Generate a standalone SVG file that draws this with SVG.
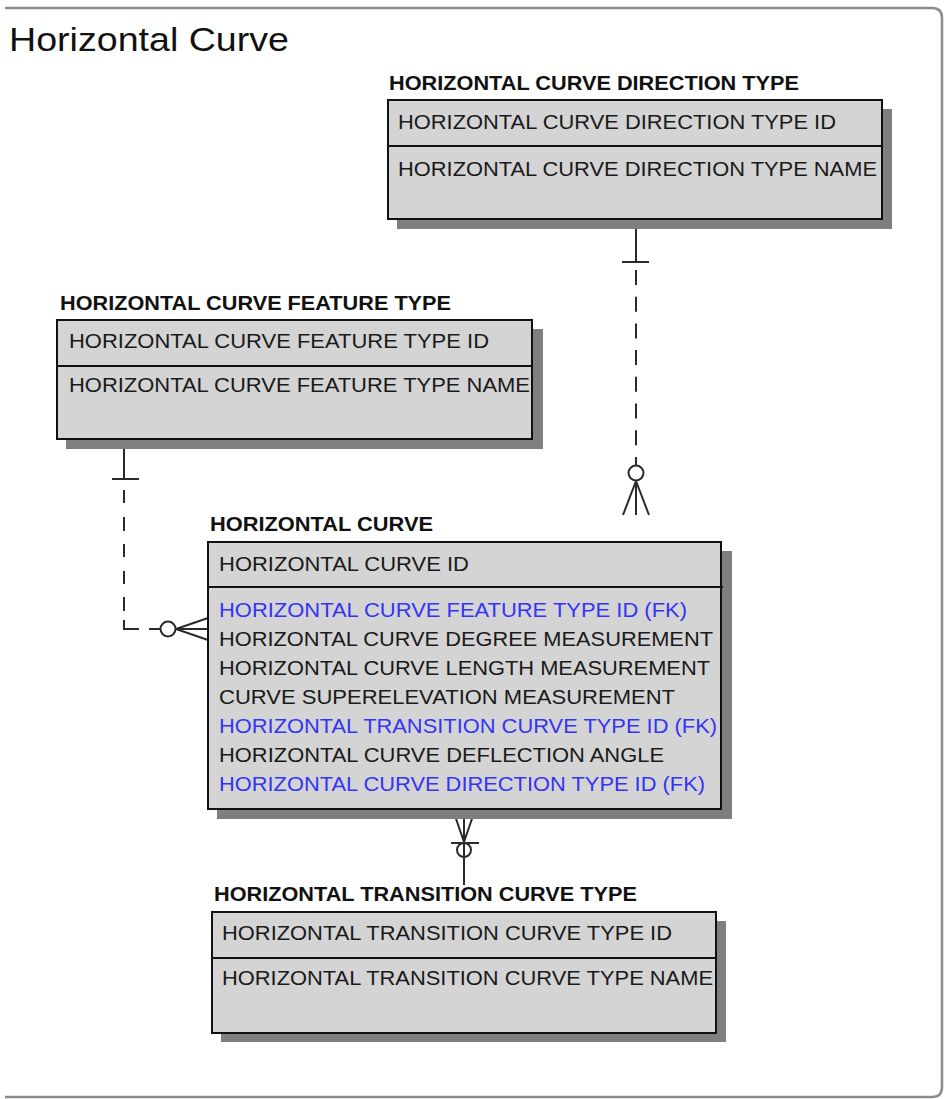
<svg xmlns="http://www.w3.org/2000/svg" width="945" height="1099" viewBox="0 0 945 1099">
  <style>
    .frame { fill: none; stroke: #8c8c8c; stroke-width: 2.5; }
    .title { font-family: "Liberation Sans", Arial, sans-serif; font-size: 34px; fill: #111; }
    .ename { font-family: "Liberation Sans", Arial, sans-serif; font-size: 19.5px; font-weight: bold; fill: #111; }
    .attr { font-family: "Liberation Sans", Arial, sans-serif; font-size: 19.5px; fill: #1a1a1a; }
    .fk { fill: #3434f4; }
    .box { fill: #d4d4d4; stroke: #111; stroke-width: 2; }
    .shadow { fill: #7f7f7f; }
    .div { stroke: #111; stroke-width: 2; }
    .conn { fill: none; stroke: #2a2a2a; stroke-width: 2; }
    .ring { fill: #fff; stroke: #2a2a2a; stroke-width: 2; }
    .ring-open { fill: none; stroke: #2a2a2a; stroke-width: 2; }
  </style>

  <!-- page frame (top, right and bottom edges) -->
  <path class="frame" d="M5,8 H932 Q942,8 942,18 V1087 Q942,1097 932,1097 H5"/>
  <text class="title" x="9" y="51" textLength="280" lengthAdjust="spacingAndGlyphs">Horizontal Curve</text>

  <!-- relationships -->
  <g id="connectors">
    <!-- direction type (one) to horizontal curve (zero or many) -->
    <g id="rel-direction">
      <line class="conn" x1="636" y1="219" x2="636" y2="262"/>
      <line class="conn" x1="622" y1="262" x2="649" y2="262"/>
      <line class="conn" x1="636" y1="270" x2="636" y2="465" stroke-dasharray="15 11.7"/>
      <circle class="ring" cx="636" cy="473" r="7.5"/>
      <path class="conn" d="M636,481 L623,515 M636,481 V515 M636,481 L649,515"/>
    </g>
    <!-- feature type (one) to horizontal curve (zero or many) -->
    <g id="rel-feature">
      <line class="conn" x1="124" y1="439" x2="124" y2="479"/>
      <line class="conn" x1="112" y1="479" x2="139" y2="479"/>
      <path class="conn" d="M124,490 V503 M124,517 V531 M124,544 V557 M124,571 V584 M124,597 V611 M124,620 V629 H139 M149,629 H160"/>
      <circle class="ring" cx="168" cy="629" r="7.5"/>
      <path class="conn" d="M176,629 L208,618 M176,629 H208 M176,629 L208,640"/>
    </g>
    <!-- horizontal curve (many) to transition curve type (zero or one) -->
    <g id="rel-transition">
      <path class="conn" d="M453,810 L464,842 L475,810 M464,810 V885"/>
      <line class="conn" x1="451" y1="843" x2="479" y2="843"/>
      <circle class="ring-open" cx="464" cy="850" r="7"/>
    </g>
  </g>

  <!-- HORIZONTAL CURVE DIRECTION TYPE -->
  <g id="direction-type">
    <text class="ename" x="389" y="90" textLength="410" lengthAdjust="spacingAndGlyphs">HORIZONTAL CURVE DIRECTION TYPE</text>
    <rect class="shadow" x="397" y="109" width="495" height="120"/>
    <rect class="box" x="388" y="100" width="494" height="119"/>
    <line class="div" x1="388" y1="146" x2="882" y2="146"/>
    <text class="attr" x="398" y="129" textLength="438" lengthAdjust="spacingAndGlyphs">HORIZONTAL CURVE DIRECTION TYPE ID</text>
    <text class="attr" x="398" y="176" textLength="479" lengthAdjust="spacingAndGlyphs">HORIZONTAL CURVE DIRECTION TYPE NAME</text>
  </g>

  <!-- HORIZONTAL CURVE FEATURE TYPE -->
  <g id="feature-type">
    <text class="ename" x="60" y="310" textLength="391" lengthAdjust="spacingAndGlyphs">HORIZONTAL CURVE FEATURE TYPE</text>
    <rect class="shadow" x="66" y="329" width="477" height="120"/>
    <rect class="box" x="57" y="320" width="475" height="119"/>
    <line class="div" x1="57" y1="366" x2="532" y2="366"/>
    <text class="attr" x="69" y="348" textLength="420" lengthAdjust="spacingAndGlyphs">HORIZONTAL CURVE FEATURE TYPE ID</text>
    <text class="attr" x="69" y="392" textLength="461" lengthAdjust="spacingAndGlyphs">HORIZONTAL CURVE FEATURE TYPE NAME</text>
  </g>

  <!-- HORIZONTAL CURVE -->
  <g id="horizontal-curve">
    <text class="ename" x="210" y="531" textLength="223" lengthAdjust="spacingAndGlyphs">HORIZONTAL CURVE</text>
    <rect class="shadow" x="217" y="551" width="515" height="268"/>
    <rect class="box" x="208" y="542" width="513" height="267"/>
    <line class="div" x1="208" y1="587" x2="723" y2="587"/>
    <text class="attr" x="219" y="571" textLength="250" lengthAdjust="spacingAndGlyphs">HORIZONTAL CURVE ID</text>
    <text class="attr fk" x="219" y="617" textLength="468" lengthAdjust="spacingAndGlyphs">HORIZONTAL CURVE FEATURE TYPE ID (FK)</text>
    <text class="attr" x="219" y="646" textLength="494" lengthAdjust="spacingAndGlyphs">HORIZONTAL CURVE DEGREE MEASUREMENT</text>
    <text class="attr" x="219" y="675" textLength="491" lengthAdjust="spacingAndGlyphs">HORIZONTAL CURVE LENGTH MEASUREMENT</text>
    <text class="attr" x="219" y="704" textLength="456" lengthAdjust="spacingAndGlyphs">CURVE SUPERELEVATION MEASUREMENT</text>
    <text class="attr fk" x="219" y="733" textLength="498" lengthAdjust="spacingAndGlyphs">HORIZONTAL TRANSITION CURVE TYPE ID (FK)</text>
    <text class="attr" x="219" y="762" textLength="445" lengthAdjust="spacingAndGlyphs">HORIZONTAL CURVE DEFLECTION ANGLE</text>
    <text class="attr fk" x="219" y="791" textLength="486" lengthAdjust="spacingAndGlyphs">HORIZONTAL CURVE DIRECTION TYPE ID (FK)</text>
  </g>

  <!-- HORIZONTAL TRANSITION CURVE TYPE -->
  <g id="transition-curve-type">
    <text class="ename" x="214" y="901" textLength="423" lengthAdjust="spacingAndGlyphs">HORIZONTAL TRANSITION CURVE TYPE</text>
    <rect class="shadow" x="221" y="921" width="505" height="121"/>
    <rect class="box" x="212" y="912" width="504" height="121"/>
    <line class="div" x1="212" y1="958" x2="716" y2="958"/>
    <text class="attr" x="222" y="940" textLength="450" lengthAdjust="spacingAndGlyphs">HORIZONTAL TRANSITION CURVE TYPE ID</text>
    <text class="attr" x="222" y="985" textLength="491" lengthAdjust="spacingAndGlyphs">HORIZONTAL TRANSITION CURVE TYPE NAME</text>
  </g>
</svg>
